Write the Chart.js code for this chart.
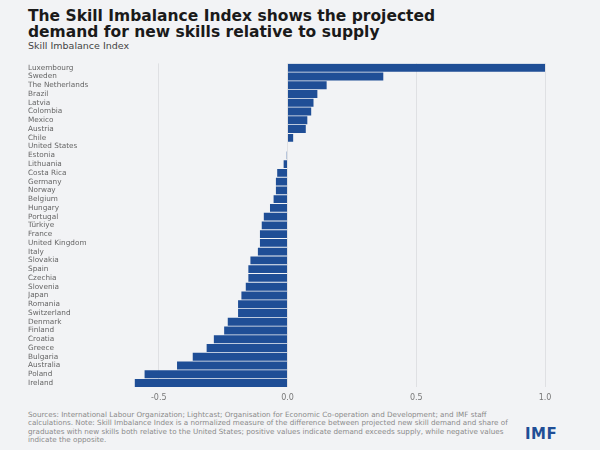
<!DOCTYPE html>
<html><head><meta charset="utf-8">
<script src="https://cdn.jsdelivr.net/npm/chart.js@4"></script>
<style>
body{margin:0;background:#f2f3f5;font-family:"DejaVu Sans",sans-serif;width:600px;height:450px;overflow:hidden;position:relative}
#t{position:absolute;left:28px;top:8px;font-size:15.5px;font-weight:bold;line-height:16px;color:#1a1a1a}
#s{position:absolute;left:28px;top:40px;font-size:9.5px;color:#444}
#c{position:absolute;left:0;top:55px;width:600px;height:354px}
#f{position:absolute;left:28px;top:411px;width:490px;font-size:7.2px;line-height:8.3px;color:#8a8a8a}
#l{position:absolute;left:525px;top:425px;font-size:15px;font-weight:900;color:#1f4e96;letter-spacing:0.5px}
</style></head><body>
<div id="t">The Skill Imbalance Index shows the projected<br>demand for new skills relative to supply</div>
<div id="s">Skill Imbalance Index</div>
<div id="c"><canvas id="cv"></canvas></div>
<div id="f">Sources: International Labour Organization; Lightcast; Organisation for Economic Co-operation and Development; and IMF staff calculations. Note: Skill Imbalance Index is a normalized measure of the difference between projected new skill demand and share of graduates with new skills both relative to the United States; positive values indicate demand exceeds supply, while negative values indicate the opposite.</div>
<div id="l">IMF</div>
<script>
const countries=["Luxembourg","Sweden","The Netherlands","Brazil","Latvia","Colombia","Mexico","Austria","Chile","United States","Estonia","Lithuania","Costa Rica","Germany","Norway","Belgium","Hungary","Portugal","Türkiye","France","United Kingdom","Italy","Slovakia","Spain","Czechia","Slovenia","Japan","Romania","Switzerland","Denmark","Finland","Croatia","Greece","Bulgaria","Australia","Poland","Ireland"];
const values=[1.0,0.372,0.152,0.116,0.101,0.092,0.077,0.071,0.022,0.0,-0.003,-0.015,-0.04,-0.045,-0.045,-0.054,-0.068,-0.092,-0.1,-0.107,-0.107,-0.115,-0.144,-0.152,-0.152,-0.162,-0.179,-0.192,-0.192,-0.232,-0.246,-0.286,-0.314,-0.368,-0.429,-0.555,-0.593];
const xTicks=[-0.5,0,0.5,1.0];
new Chart(document.getElementById('cv'),{type:'bar',
data:{labels:countries,datasets:[{data:values,backgroundColor:'#1f4e96',barPercentage:0.9,categoryPercentage:1}]},
options:{indexAxis:'y',responsive:true,maintainAspectRatio:false,animation:false,
layout:{padding:{left:28,right:55,top:4,bottom:0}},
plugins:{legend:{display:false},tooltip:{enabled:false}},
scales:{
x:{min:-0.6,max:1.0,afterBuildTicks:s=>{s.ticks=xTicks.map(v=>({value:v}))},
 grid:{color:'#dfe0e3',drawTicks:false},border:{display:false},
 ticks:{padding:6,color:'#777',font:{size:8,family:'DejaVu Sans'},callback:v=>v===0?'0.0':v.toFixed(1)}},
y:{afterFit:s=>{s.width=105},grid:{display:false},border:{display:false},
 ticks:{autoSkip:false,crossAlign:'far',color:'#666',font:{size:7.3,family:'DejaVu Sans'},padding:4}}
}}});
</script></body></html>
